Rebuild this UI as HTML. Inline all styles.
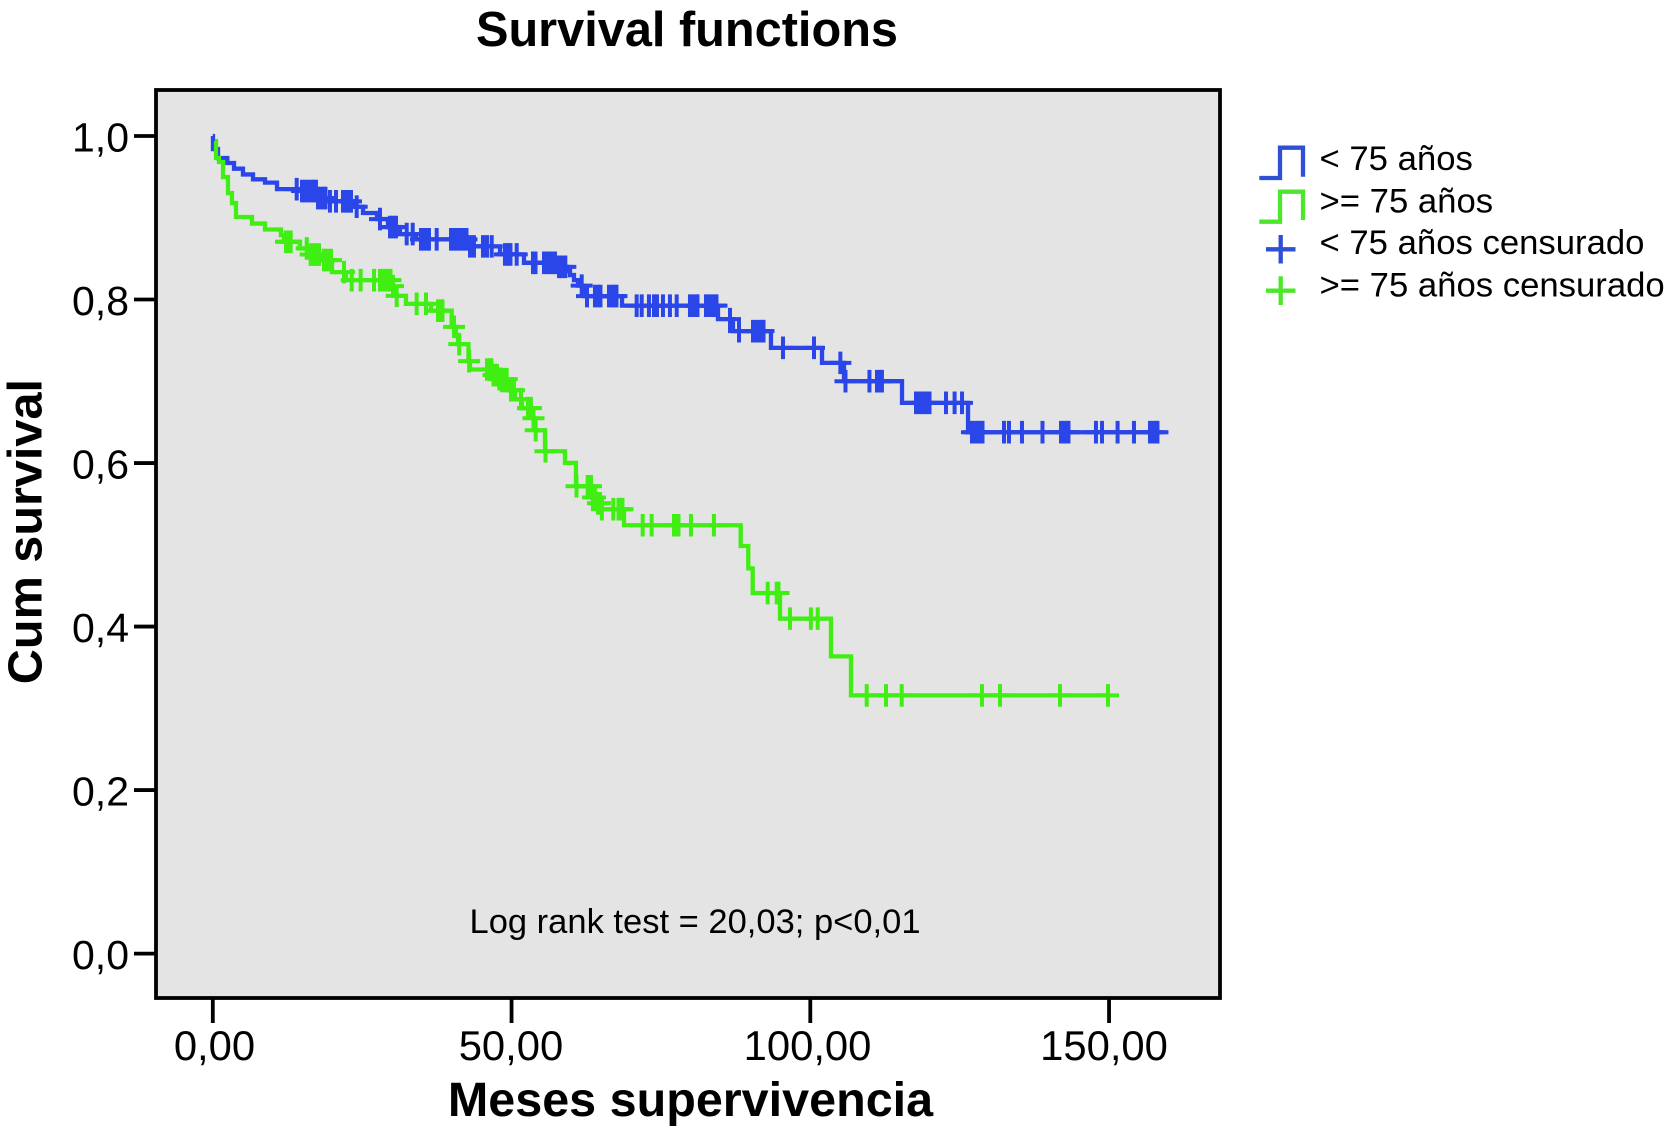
<!DOCTYPE html>
<html lang="es">
<head>
<meta charset="utf-8">
<title>Survival functions</title>
<style>
html,body{margin:0;padding:0;background:#fff;width:1667px;height:1139px;overflow:hidden}
svg{display:block}
text{font-family:"Liberation Sans",Arial,Helvetica,sans-serif;fill:#000}
</style>
</head>
<body>
<svg id="chart" xmlns="http://www.w3.org/2000/svg" width="1667" height="1139" viewBox="0 0 1667 1139">
  <text x="687" y="46" font-size="48.7" font-weight="bold" text-anchor="middle">Survival functions</text>
  <rect x="156" y="90" width="1064" height="908" fill="#e4e4e4" stroke="#000" stroke-width="3.8"/>
  <g id="axes"></g>
  <g id="series"></g>
  <text x="469.5" y="933" font-size="34.5" textLength="451" lengthAdjust="spacing">Log rank test = 20,03; p&lt;0,01</text>
  <text x="690.5" y="1116" font-size="48.5" font-weight="bold" text-anchor="middle">Meses supervivencia</text>
  <text transform="translate(41.5 531.6) rotate(-90)" font-size="48.6" font-weight="bold" text-anchor="middle">Cum survival</text>
  <g>
    <path d="M1259.3 178H1280V147.7H1303V176.7" fill="none" stroke="#2f4fd4" stroke-width="4.3"/>
    <path d="M1259.3 221.7H1280V191.7H1303V220" fill="none" stroke="#4ee62c" stroke-width="4.3"/>
    <path d="M1266 249.3H1295.5M1280.7 235V263.5" fill="none" stroke="#2f4fd4" stroke-width="4.3"/>
    <path d="M1266 290.7H1295.5M1280.7 276.3V305" fill="none" stroke="#4ee62c" stroke-width="4.3"/>
    <text x="1319.5" y="170" font-size="34.7">&lt; 75 años</text>
    <text x="1319.5" y="212.7" font-size="34.7">&gt;= 75 años</text>
    <text x="1319.5" y="254" font-size="34.7">&lt; 75 años censurado</text>
    <text x="1319.5" y="296.7" font-size="34.7">&gt;= 75 años censurado</text>
  </g>
</svg>
<script>
var xTickValues = [0, 50, 100, 150];
var xTickLabels = ["0,00", "50,00", "100,00", "150,00"];
var yTickValues = [0, 0.2, 0.4, 0.6, 0.8, 1];
var yTickLabels = ["0,0", "0,2", "0,4", "0,6", "0,8", "1,0"];

var blueMonths = [0,0.03,0.87,2.43,3.55,5.05,6.73,8.74,10.75,14.6,17.36,19.11,23.63,25.14,27.48,29.32,31.33,34.0,42.71,48.07,52.08,57.52,59.11,59.78,60.45,61.12,62.13,68.49,84.55,87.06,93.42,101.96,105.64,115.35,126.4,158.11];
var blueSurvival = [1,0.984,0.973,0.967,0.96,0.953,0.947,0.943,0.935,0.9327,0.9241,0.9201,0.9135,0.9058,0.8984,0.8886,0.88,0.8736,0.865,0.8552,0.8449,0.84,0.8348,0.8299,0.8237,0.817,0.8042,0.7925,0.776,0.7613,0.7409,0.7225,0.7001,0.6736,0.6377,0.6377];
var blueCensored = [14.04,14.93,15.43,15.93,16.43,16.94,17.27,17.61,18.11,18.61,18.86,19.61,20.62,21.79,22.29,22.79,23.13,24.08,27.98,29.66,30.16,30.66,32.45,33.46,34.84,35.34,35.85,36.18,37.47,39.87,40.37,40.87,41.37,41.87,42.46,43.05,43.71,45.22,45.89,46.68,48.9,49.4,49.82,50.86,53.59,54.01,55.43,55.93,56.43,56.94,57.27,57.94,58.44,59.0,61.74,62.63,63.96,64.46,64.88,66.31,66.81,67.31,67.56,70.94,71.78,73.0,73.84,74.34,75.34,76.51,77.64,79.86,80.37,80.87,81.12,82.54,83.04,83.54,84.04,84.3,86.56,88.07,90.41,90.91,91.41,91.92,92.17,95.43,100.62,105.03,105.89,109.9,111.16,111.66,111.99,117.69,118.36,118.86,119.36,119.95,122.71,124.15,125.39,127.06,127.56,128.06,128.57,128.82,132.42,133.25,135.43,138.86,141.96,142.46,142.96,143.21,147.81,148.82,151.43,154.17,156.85,157.35,157.85,158.1];

var greenMonths = [0.37,0.54,1.04,1.71,2.54,3.21,3.88,6.56,8.74,11.41,11.92,14.59,16.1,18.28,19.95,22.29,29.82,30.32,32.33,36.52,39.98,40.7,41.04,42.79,43.05,46.73,47.73,49.4,50.58,51.75,53.59,53.84,55.6,58.94,60.78,63.46,64.13,64.97,68.82,88.35,89.62,90.36,94.93,103.46,106.81,149.82];
var greenSurvival = [0.9939,0.9731,0.9682,0.9498,0.9302,0.918,0.9009,0.8929,0.8856,0.8788,0.8706,0.8625,0.855,0.8482,0.8335,0.8237,0.8164,0.8045,0.7947,0.7864,0.7666,0.7564,0.7454,0.7246,0.7144,0.7075,0.7026,0.6891,0.6781,0.6671,0.6548,0.6401,0.6144,0.6001,0.5716,0.5578,0.5508,0.5435,0.5239,0.4985,0.4712,0.441,0.4097,0.3635,0.3158,0.3158];
var greenCensored = [12.25,12.59,13.04,15.72,16.38,16.94,17.44,17.77,18.61,19.11,19.78,21.96,23.25,24.75,26.98,27.98,28.48,28.98,29.49,29.74,30.16,30.78,34.12,35.68,37.69,38.19,38.44,40.37,41.25,42.9,45.89,46.31,46.64,46.98,47.31,47.56,47.95,48.57,49.19,49.9,50.4,51.58,52.75,53.25,53.67,54.04,55.68,60.87,62.74,62.96,63.29,63.63,63.96,64.46,64.8,65.12,67.03,67.9,68.23,68.56,71.95,73.45,77.19,77.52,77.94,80.03,83.87,92.87,94.38,94.68,96.6,100.1,101.24,109.44,112.67,115.3,128.73,131.75,141.79,149.82];

var NS = "http://www.w3.org/2000/svg";
function xScale(t) { return 212.8 + 5.975 * t; }
function xLabelScale(t) { return 214.5 + 5.93 * t; }
function yScale(s) { return 953.6 - 817.6 * s; }
function levelAt(times, surv, t) {
  var level = surv[0];
  for (var i = 0; i < times.length; i++) {
    if (times[i] <= t) { level = surv[i]; }
  }
  return level;
}

var axes = document.getElementById("axes");
var series = document.getElementById("series");

xTickValues.forEach(function (v, i) {
  var tick = document.createElementNS(NS, "line");
  
  
  tick.setAttribute("x1", xScale(v));
  tick.setAttribute("x2", xScale(v));
  tick.setAttribute("y1", 998);
  tick.setAttribute("y2", 1023);
  tick.setAttribute("stroke", "#000");
  tick.setAttribute("stroke-width", 3.8);
  axes.appendChild(tick);
  var label = document.createElementNS(NS, "text");
  
  
  label.setAttribute("x", xLabelScale(v));
  label.setAttribute("y", 1060);
  label.setAttribute("font-size", 41.8);
  label.setAttribute("text-anchor", "middle");
  label.textContent = xTickLabels[i];
  axes.appendChild(label);
});

yTickValues.forEach(function (v, i) {
  var tick = document.createElementNS(NS, "line");
  
  
  tick.setAttribute("x1", 134);
  tick.setAttribute("x2", 156);
  tick.setAttribute("y1", yScale(v));
  tick.setAttribute("y2", yScale(v));
  tick.setAttribute("stroke", "#000");
  tick.setAttribute("stroke-width", 3.8);
  axes.appendChild(tick);
  var label = document.createElementNS(NS, "text");
  
  
  label.setAttribute("x", 129);
  label.setAttribute("y", yScale(v) + 15.5);
  label.setAttribute("font-size", 41);
  label.setAttribute("text-anchor", "end");
  label.textContent = yTickLabels[i];
  axes.appendChild(label);
});

function drawCurve(times, surv, color) {
  var d = "M" + xScale(times[0]) + " " + yScale(surv[0]);
  for (var i = 1; i < times.length; i++) {
    d += "H" + xScale(times[i]).toFixed(2) + "V" + yScale(surv[i]).toFixed(2);
  }
  var p = document.createElementNS(NS, "path");
  
  
  p.setAttribute("d", d);
  p.setAttribute("fill", "none");
  p.setAttribute("stroke", color);
  p.setAttribute("stroke-width", 4.3);
  series.appendChild(p);
}

function drawCensored(censored, times, surv, color) {
  censored.forEach(function (t) {
    var cx = xScale(t);
    var cy = yScale(levelAt(times, surv, t));
    var m = document.createElementNS(NS, "path");
    
    
    m.setAttribute("d", "M" + (cx - 11) .toFixed(2) + " " + cy.toFixed(2) + "h22M" + cx.toFixed(2) + " " + (cy - 11.3).toFixed(2) + "v22.6");
    m.setAttribute("fill", "none");
    m.setAttribute("stroke", color);
    m.setAttribute("stroke-width", 4);
    series.appendChild(m);
  });
}

drawCurve(blueMonths, blueSurvival, "#2b46e8");
drawCensored(blueCensored, blueMonths, blueSurvival, "#2b46e8");
drawCurve(greenMonths, greenSurvival, "#40ee14");
drawCensored(greenCensored, greenMonths, greenSurvival, "#40ee14");
</script>
</body>
</html>
